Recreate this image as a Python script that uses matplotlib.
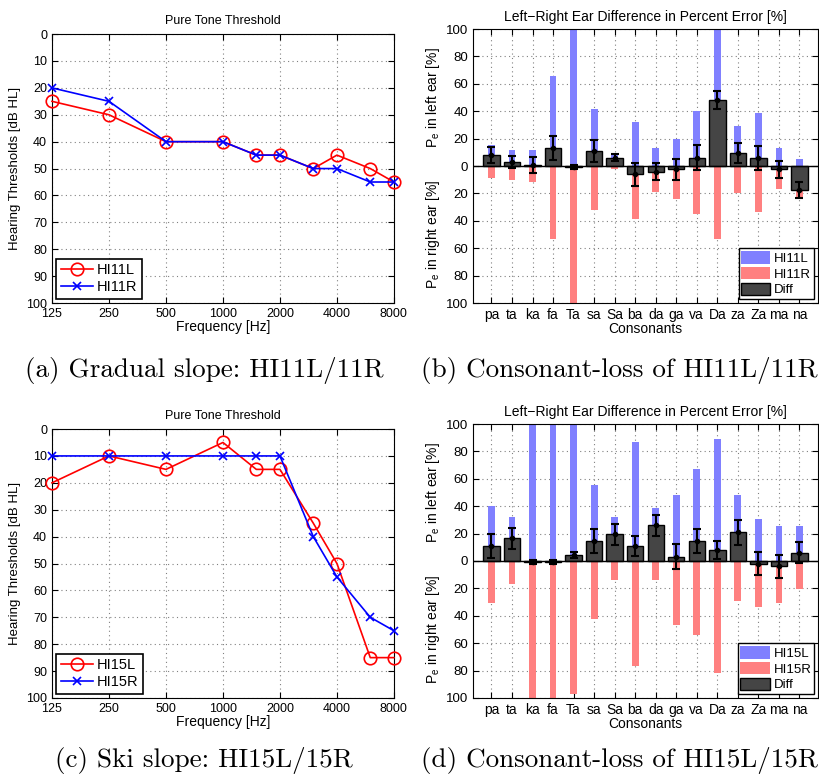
import matplotlib.pyplot as plt
import numpy as np

plt.rcParams['font.family'] = ['Liberation Sans', 'DejaVu Sans']
plt.rcParams['mathtext.fontset'] = 'custom'
plt.rcParams['mathtext.rm'] = 'Liberation Sans'
plt.rcParams['mathtext.it'] = 'Liberation Sans:italic'

# audiogram data
freqs = [125, 250, 500, 1000, 1500, 2000, 3000, 4000, 6000, 8000]
freq_ticks = [125, 250, 500, 1000, 2000, 4000, 8000]
hi11_l = [25, 30, 40, 40, 45, 45, 50, 45, 50, 55]
hi11_r = [20, 25, 40, 40, 45, 45, 50, 50, 55, 55]
hi15_l = [20, 10, 15, 5, 15, 15, 35, 50, 85, 85]
hi15_r = [10, 10, 10, 10, 10, 10, 40, 55, 70, 75]

# consonant-loss data
consonants = ['pa', 'ta', 'ka', 'fa', 'Ta', 'sa', 'Sa', 'ba',
              'da', 'ga', 'va', 'Da', 'za', 'Za', 'ma', 'na']
hi11_left = [15, 12, 12, 66, 99.5, 42, 8, 32, 13.5, 20, 40.5, 100, 29, 39, 13.5, 5]
hi11_right = [8.5, 10, 12, 53.5, 100, 32, 2, 38.5, 19, 24, 35, 53, 20, 33.5, 17, 24]
hi11_diff = [8, 3, 1, 13, -1, 11, 6, -6, -4, -2.5, 6, 48, 9.5, 6, -2.5, -17.5]
hi11_err = [5.8, 4.6, 5.8, 8.7, 1.5, 8, 2.5, 8.5, 6.4, 7.6, 9, 6.5, 7.1, 8.9, 6.5, 5.7]

hi15_left = [40.5, 32, 99, 99, 100, 55.5, 32, 87, 38.5, 48.5, 67, 89, 48.5, 30.5, 25.5, 25.5]
hi15_right = [30.5, 17, 100, 100, 97, 42, 14, 77, 14, 47, 54, 82, 29, 33.5, 30.5, 20.5]
hi15_diff = [11, 16.5, -1, -1, 4.5, 14.5, 19.5, 11, 26, 3, 14.5, 8, 21, -2, -4, 6]
hi15_err = [8.7, 7.8, 1.5, 1.5, 2, 9, 7.5, 7, 7.5, 9.2, 9, 6.5, 9, 8.5, 8.5, 7.7]

captions = ['(a) Gradual slope: HI11L/11R', '(b) Consonant-loss of HI11L/11R',
            '(c) Ski slope: HI15L/15R', '(d) Consonant-loss of HI15L/15R']


def style_axes(ax, size):
    ax.tick_params(direction='in', top=True, right=True, labelsize=size, length=4)
    ax.grid(True, linestyle=(0, (1, 3)), color='#808080', linewidth=0.8)
    ax.set_axisbelow(True)


def audiogram(ax, left, right, name):
    ax.plot(freqs, left, '-o', color='red', mfc='none', ms=9, mew=1.2, lw=1.2,
            label=name + 'L', clip_on=False, zorder=3)
    ax.plot(freqs, right, '-x', color='blue', ms=6, mew=1.2, lw=1.2,
            label=name + 'R', clip_on=False, zorder=3)
    ax.set_xscale('log', base=2)
    ax.set_xlim(125, 8000)
    ax.set_xticks(freq_ticks)
    ax.set_xticklabels([str(f) for f in freq_ticks])
    ax.minorticks_off()
    ax.set_ylim(100, 0)
    ax.set_yticks(range(0, 101, 10))
    style_axes(ax, 9)
    ax.set_title('Pure Tone Threshold', fontsize=9, pad=7)
    ax.set_xlabel('Frequency [Hz]', fontsize=10, labelpad=0)
    ax.set_ylabel('Hearing Thresholds [dB HL]', fontsize=9.5, labelpad=4)
    leg = ax.legend(loc='lower left', fontsize=10.5, fancybox=False, edgecolor='k',
                    framealpha=1, borderaxespad=0.3, handlelength=2.2,
                    borderpad=0.3, labelspacing=0.2, handletextpad=0.3)
    leg.get_frame().set_linewidth(1.2)


def consonant_loss(ax, left, right, diff, err, name):
    x = np.arange(1, len(consonants) + 1)
    b1 = ax.bar(x, left, width=0.33, color='#8080ff', label=name + 'L')
    b2 = ax.bar(x, [-v for v in right], width=0.33, color='#ff8080', label=name + 'R')
    b3 = ax.bar(x, diff, width=0.8, color='#454545', edgecolor='k', linewidth=1, label='Diff')
    ax.errorbar(x, diff, yerr=err, fmt='.', color='k', ms=6, elinewidth=1.5,
                capsize=3, capthick=1.5)
    ax.axhline(0, color='k', lw=1)
    ax.set_xlim(0.1, 16.9)
    ax.set_xticks(x)
    ax.set_xticklabels(consonants)
    ax.set_ylim(-100, 100)
    yt = list(range(-100, 101, 20))
    ax.set_yticks(yt)
    ax.set_yticklabels([str(abs(v)) for v in yt])
    style_axes(ax, 9.5)
    ax.tick_params(axis='x', labelsize=10)
    ax.set_title('Left\u2212Right Ear Difference in Percent Error [%]', fontsize=10, pad=6)
    ax.set_xlabel('Consonants', fontsize=10, labelpad=0)
    ax.text(-0.117, 0.75, r'P$_{\mathrm{e}}$ in left ear [%]', transform=ax.transAxes,
            rotation=90, ha='center', va='center', fontsize=10)
    ax.text(-0.117, 0.25, r'P$_{\mathrm{e}}$ in right ear [%]', transform=ax.transAxes,
            rotation=90, ha='center', va='center', fontsize=10)
    leg = ax.legend(handles=[b1, b2, b3], loc='lower right', fontsize=9.5, fancybox=False,
                    edgecolor='k', framealpha=1, borderaxespad=0.3, handlelength=2.2,
                    handleheight=1.1, borderpad=0.2, labelspacing=0.15, handletextpad=0.3)
    leg.get_frame().set_linewidth(1.0)


fig = plt.figure(figsize=(8.2, 7.75), dpi=100)
ax_a = fig.add_axes([0.0634, 0.609, 0.417, 0.347])
ax_b = fig.add_axes([0.5768, 0.609, 0.4207, 0.3535])
ax_c = fig.add_axes([0.0634, 0.0994, 0.417, 0.347])
ax_d = fig.add_axes([0.5768, 0.0994, 0.4207, 0.3535])

audiogram(ax_a, hi11_l, hi11_r, 'HI11')
audiogram(ax_c, hi15_l, hi15_r, 'HI15')
consonant_loss(ax_b, hi11_left, hi11_right, hi11_diff, hi11_err, 'HI11')
consonant_loss(ax_d, hi15_left, hi15_right, hi15_diff, hi15_err, 'HI15')

cap_pos = [(0.249, 0.522), (0.755, 0.522), (0.249, 0.019), (0.755, 0.019)]
for (cx, cy), txt in zip(cap_pos, captions):
    fig.text(cx, cy, txt, ha='center', va='center', fontsize=19.5,
             family=['cmr10', 'DejaVu Serif'])

fig.savefig('out.png', dpi=100)
